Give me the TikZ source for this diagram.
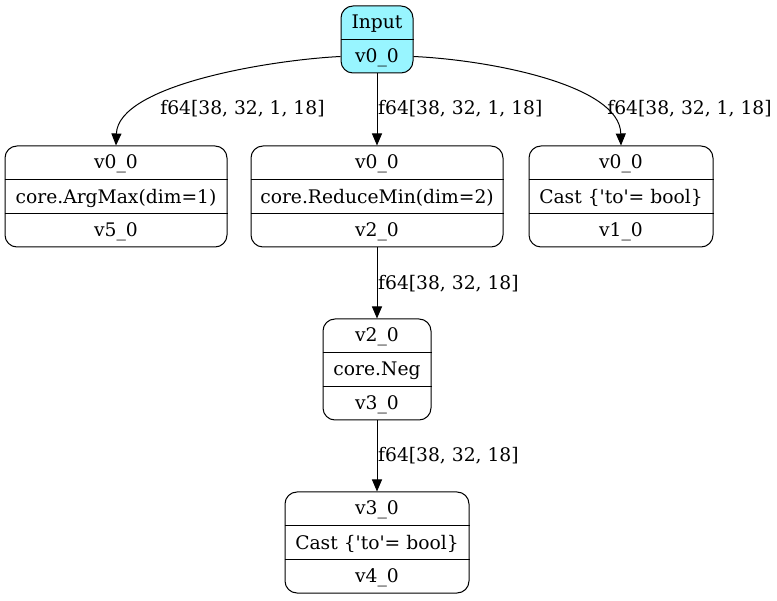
\documentclass[tikz,border=0pt]{standalone}
\usepackage{fontspec}
\setmainfont{DejaVu Serif}
\usetikzlibrary{calc,arrows.meta}
\definecolor{inputfill}{HTML}{98F5FF}
\tikzset{
  rec/.style={draw, line width=1pt, rounded corners=12pt, inner sep=0pt},
  txt/.style={inner sep=0pt, yshift=-1.5pt, font=\fontsize{18.7}{22}\selectfont},
  lbl/.style={inner sep=0pt, yshift=-1pt, font=\fontsize{18.7}{22}\selectfont},
  edge/.style={line width=1pt, -{Triangle[length=12pt,width=10pt]}},
}
\newcommand{\sq}{\textquotesingle}
% three-row record: frame, two dividers and the row texts
\newcommand{\recnode}[6]{%
  \node[rec, minimum width=#3, minimum height=101] (#1) at (#2) {};
  \draw[line width=1pt] ($(#1.north west)!1/3!(#1.south west)$) -- ($(#1.north east)!1/3!(#1.south east)$);
  \draw[line width=1pt] ($(#1.north west)!2/3!(#1.south west)$) -- ($(#1.north east)!2/3!(#1.south east)$);
  \node[txt] (#1-a) at ($(#1.north)!1/6!(#1.south)$) {#4};
  \node[txt] (#1-b) at ($(#1.north)!3/6!(#1.south)$) {#5};
  \node[txt] (#1-c) at ($(#1.north)!5/6!(#1.south)$) {#6};
}
\begin{document}
\begin{tikzpicture}[x=1pt,y=-1pt]
\useasboundingbox (0,0) rectangle (777,601);

% input record
\node[rec, fill=inputfill, minimum width=72, minimum height=67] (input) at (377,39.5) {};
\draw[line width=1pt] (input.west) -- (input.east);
\node[txt] (input-a) at ($(input.north)!1/4!(input.south)$) {Input};
\node[txt] (input-b) at ($(input.north)!3/4!(input.south)$) {v0\_0};

\recnode{argmax}{116,196.5}{222}{v0\_0}{core.ArgMax(dim=1)}{v5\_0}
\recnode{redmin}{377,196.5}{252}{v0\_0}{core.ReduceMin(dim=2)}{v2\_0}
\recnode{castA}{621,196.5}{184}{v0\_0}{Cast \{\sq to\sq= bool\}}{v1\_0}
\recnode{neg}{377,369.5}{108}{v2\_0}{core.Neg}{v3\_0}
\recnode{castB}{377,542.5}{184}{v3\_0}{Cast \{\sq to\sq= bool\}}{v4\_0}

\coordinate (inL) at ($(input.west)!0.5!(input.south west)$);
\coordinate (inR) at ($(input.east)!0.5!(input.south east)$);

\draw[edge] (inL) .. controls (270,60) and (118,85) .. (argmax.north);
\draw[edge] (input.south) -- (redmin.north);
\draw[edge] (inR) .. controls (490,60) and (620,85) .. (castA.north);
\draw[edge] (redmin.south) -- (neg.north);
\draw[edge] (neg.south) -- (castB.north);

\node[lbl] (l1) at (242.5,108) {f64[38, 32, 1, 18]};
\node[lbl, anchor=west] (l2) at (378,108) {f64[38, 32, 1, 18]};
\node[lbl] (l3) at (689.5,108) {f64[38, 32, 1, 18]};
\node[lbl, anchor=west] (l4) at (378,283) {f64[38, 32, 18]};
\node[lbl, anchor=west] (l5) at (378,455) {f64[38, 32, 18]};
\end{tikzpicture}
\end{document}
